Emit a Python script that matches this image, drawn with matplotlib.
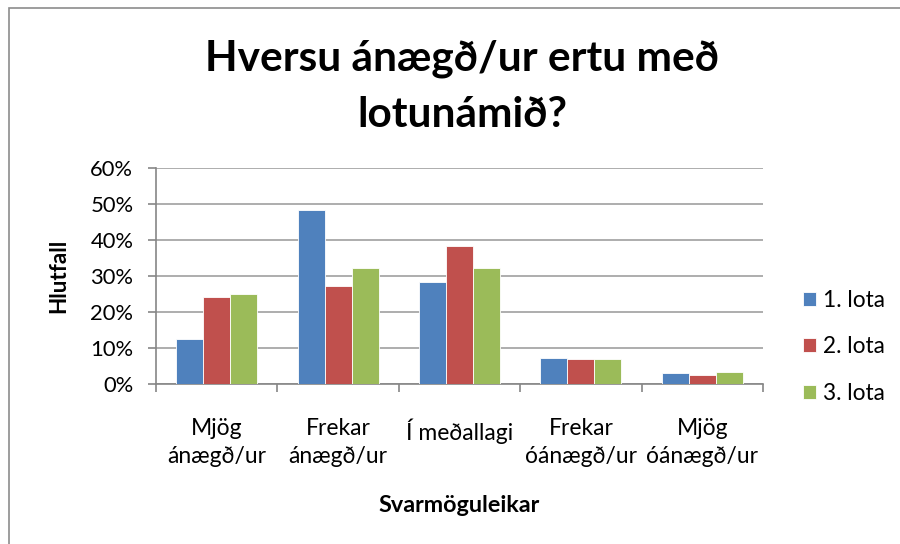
import matplotlib
matplotlib.use('Agg')
import matplotlib.pyplot as plt
import numpy as np
from matplotlib.patches import Rectangle

categories = ['Mjög\nánægð/ur', 'Frekar\nánægð/ur', 'Í meðallagi', 'Frekar\nóánægð/ur', 'Mjög\nóánægð/ur']
series = ['1. lota', '2. lota', '3. lota']
lota1 = [12.4, 48.4, 28.3, 7.2, 3.0]
lota2 = [24.2, 27.1, 38.4, 7.0, 2.6]
lota3 = [24.9, 32.1, 32.1, 7.0, 3.4]
colors = ['#4F81BD', '#C0504D', '#9BBB59']
yticks = [0, 10, 20, 30, 40, 50, 60]

plt.rcParams['font.family'] = ['Lato', 'DejaVu Sans']

fig = plt.figure(figsize=(9, 5.44), dpi=100)
ax = fig.add_axes([156/900, 1-384/544, (763-156)/900, (384-168)/544])

# outer frame (left and top edges visible)
fig.patches.append(Rectangle((9/900, -0.1), 1.2, 1-8/544+0.1, transform=fig.transFigure,
                             fill=False, edgecolor='#8c8c8c', lw=1.2))

x = np.arange(len(categories))
w = 0.222
for i, (vals, c, name) in enumerate(zip([lota1, lota2, lota3], colors, series)):
    ax.bar(x + (i-1)*w, vals, w, color=c, label=name, edgecolor='white', linewidth=0.6, zorder=3)

ax.set_xlim(-0.5, len(categories)-0.5)
ax.set_ylim(0, 60)
ax.set_yticks(yticks)
ax.set_yticklabels([f'{v}%' for v in yticks], fontsize=15.8)
ax.set_xticks(x)
ax.set_xticklabels(categories, fontsize=16.5, linespacing=1.43)
ax.set_xticks(np.arange(len(categories)+1)-0.5, minor=True)
ax.tick_params(axis='x', which='major', length=0, pad=24.5)
ax.tick_params(axis='x', which='minor', length=5.8, color='#868686', width=1.2)
ax.tick_params(axis='y', length=5.8, color='#868686', width=1.2, pad=10.5)
ax.grid(axis='y', color='#a0a0a0', lw=1.2, zorder=0)
for s in ['top', 'right']:
    ax.spines[s].set_visible(False)
for s in ['left', 'bottom']:
    ax.spines[s].set_color('#868686')
    ax.spines[s].set_linewidth(1.2)

ax.set_ylabel('Hlutfall', fontsize=16.2, fontweight='bold')
ax.yaxis.set_label_coords(-0.143, 0.5)
ax.set_xlabel('Svarmöguleikar', fontsize=16.8, fontweight='bold', labelpad=20)

fig.text(462/900, 1-70/544, 'Hversu ánægð/ur ertu með', ha='center', va='baseline',
         fontsize=30.5, fontweight='bold')
fig.text(462/900, 1-127/544, 'lotunámið?', ha='center', va='baseline',
         fontsize=30.5, fontweight='bold')

ax.legend(loc='upper left', bbox_to_anchor=(803/900, 1-290/544), bbox_transform=fig.transFigure,
          frameon=False, fontsize=16.3, handlelength=0.58, handleheight=0.58, labelspacing=1.12,
          handletextpad=0.31, borderaxespad=0, borderpad=0)

fig.savefig('out.png', dpi=100)
